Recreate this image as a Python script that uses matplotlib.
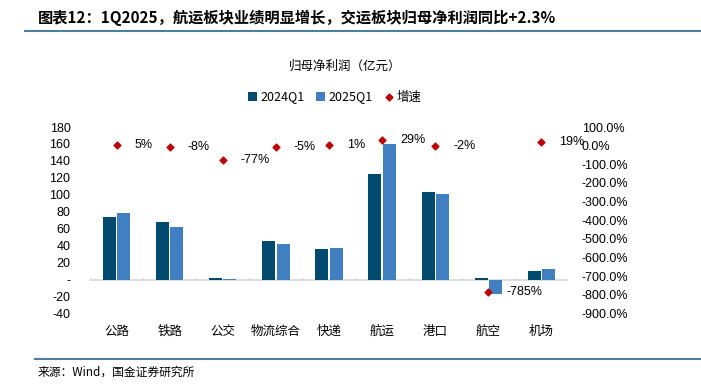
import matplotlib
matplotlib.use('Agg')
import matplotlib.pyplot as plt
import numpy as np

plt.rcParams['font.family'] = ['Liberation Sans', 'Noto Sans CJK SC', 'DejaVu Sans']

categories = ['公路', '铁路', '公交', '物流综合', '快递', '航运', '港口', '航空', '机场']
profit_2024 = [74, 68, 1.5, 45.6, 35.5, 124, 102.8, 2.4, 10.5]
profit_2025 = [78, 62.6, 1.2, 42.5, 37, 160, 101, -17, 12.5]
growth = [5, -8, -77, -5, 1, 29, -2, -785, 19]

left_ticks = [180, 160, 140, 120, 100, 80, 60, 40, 20, 0, -20, -40]
right_ticks = [100, 0, -100, -200, -300, -400, -500, -600, -700, -800, -900]

c_dark = '#004a70'
c_light = '#4080c0'
c_red = '#c00000'
cjk = ['Noto Sans CJK SC', 'DejaVu Sans']

fig = plt.figure(figsize=(7.01, 3.92), dpi=100)
ax = fig.add_axes([90 / 701, 1 - 313.5 / 392, 478 / 701, 186.5 / 392])

x = np.arange(len(categories))
w = 0.245
ax.bar(x - 0.135, profit_2024, w, color=c_dark, label='2024Q1', zorder=3)
ax.bar(x + 0.135, profit_2025, w, color=c_light, label='2025Q1', zorder=3)
ax.set_ylim(-40, 180)
ax.set_xlim(-0.5, len(categories) - 0.5)
ax.set_yticks(left_ticks)
ax.set_yticklabels([str(t) if t != 0 else '-' for t in left_ticks], fontsize=9)
ax.set_xticks(x)
ax.set_xticklabels(categories, family=cjk, fontsize=9)
ax.tick_params(axis='x', length=0, pad=8)
ax.tick_params(axis='y', length=0, pad=14)
for s in ax.spines.values():
    s.set_visible(False)
ax.axhline(0, color='#d9d9d9', lw=1.2, zorder=2)
for b in np.arange(-0.5, len(categories), 1.0):
    ax.plot([b, b], [0, 2], color='#d9d9d9', lw=0.8, zorder=2)

ax2 = ax.twinx()
ax2.set_ylim(-900, 100)
ax2.set_yticks(right_ticks)
ax2.set_yticklabels(['%.1f%%' % t for t in right_ticks], fontsize=9)
ax2.tick_params(axis='y', length=0, pad=10)
for s in ax2.spines.values():
    s.set_visible(False)
ax2.scatter(x, growth, marker='D', s=12, color=c_red, zorder=4, label='增速')
for xi, g in zip(x, growth):
    ax2.annotate('%d%%' % g, (xi, g), xytext=(13, 0), textcoords='offset points',
                 va='center', ha='left', fontsize=9)

h1, l1 = ax.get_legend_handles_labels()
h2, l2 = ax2.get_legend_handles_labels()
leg = fig.legend(h1 + h2, l1 + l2, loc='center', bbox_to_anchor=(335 / 701, 1 - 97 / 392),
                 ncol=3, frameon=False, handlelength=0.7, handleheight=0.7,
                 handletextpad=0.3, columnspacing=0.9, prop={'family': cjk, 'size': 9})

fig.text(345 / 701, 1 - 66 / 392, '归母净利润（亿元）', ha='center', va='center',
         family=cjk, fontsize=9)
fig.text(38 / 701, 1 - 18 / 392, '图表12：1Q2025，航运板块业绩明显增长，交运板块归母净利润同比+2.3%',
         ha='left', va='center', family=cjk, fontsize=11, fontweight='bold', style='italic')
fig.add_artist(plt.Line2D([25 / 701, 1], [1 - 31 / 392] * 2, color='#4a7fa0', lw=1.5))
fig.add_artist(plt.Line2D([35 / 701, 1], [1 - 359 / 392] * 2, color='#4a7fa0', lw=1.5))
fig.text(38 / 701, 1 - 372 / 392, '来源：Wind，国金证券研究所', ha='left', va='center',
         family=cjk, fontsize=8.5)

fig.savefig('out.png', dpi=100)
